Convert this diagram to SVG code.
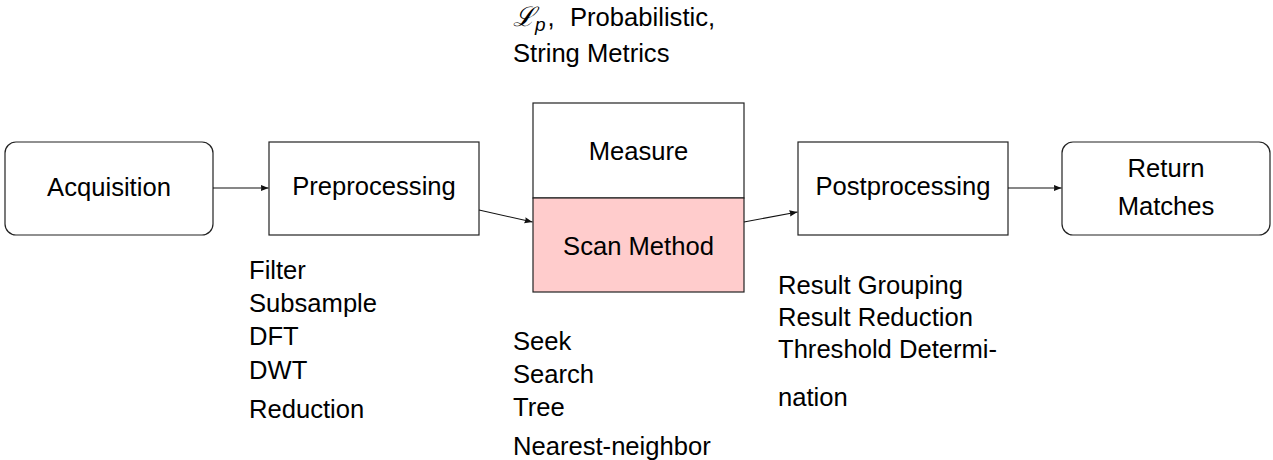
<svg xmlns="http://www.w3.org/2000/svg" width="1273" height="460" viewBox="0 0 1273 460">
<style>
  text { font-family: "Liberation Sans", Arial, sans-serif; font-size: 25.6px; fill: #000; }
  .box { fill: #fff; stroke: #222; stroke-width: 1.2; }
  .pink { fill: #ffcccc; stroke: #222; stroke-width: 1.2; }
  .mid { text-anchor: middle; }
  .conn { stroke: #111; stroke-width: 1.1; fill: none; marker-end: url(#arr); }
</style>
<defs>
  <marker id="arr" markerUnits="userSpaceOnUse" markerWidth="9" markerHeight="7" refX="8" refY="3.5" orient="auto">
    <path d="M0,0.3 L8,3.5 L0,6.7 Q1.5,3.5 0,0.3 z" fill="#111"/>
  </marker>
</defs>

<g id="label-metrics">
  <text x="513" y="26"><tspan font-family="DejaVu Serif, serif" font-style="italic" font-size="27">ℒ</tspan><tspan font-family="Liberation Sans, sans-serif" font-size="19" font-style="italic" dy="5">p</tspan><tspan dy="-5" dx="2">,</tspan><tspan x="570">Probabilistic,</tspan></text>
  <text x="513" y="62">String Metrics</text>
</g>

<g id="node-acquisition">
  <rect class="box" x="5" y="142" width="208" height="93" rx="11"/>
  <text class="mid" x="109" y="196">Acquisition</text>
</g>

<g id="node-preprocessing">
  <rect class="box" x="269" y="142" width="210" height="93"/>
  <text class="mid" x="374" y="195">Preprocessing</text>
</g>

<g id="node-measure">
  <rect class="box" x="533" y="103" width="211" height="95"/>
  <text class="mid" x="638.5" y="160">Measure</text>
</g>

<g id="node-scan">
  <rect class="pink" x="533" y="198" width="211" height="94"/>
  <text class="mid" x="638.5" y="255">Scan Method</text>
</g>

<g id="node-postprocessing">
  <rect class="box" x="798" y="142" width="210" height="93"/>
  <text class="mid" x="903" y="195">Postprocessing</text>
</g>

<g id="node-return">
  <rect class="box" x="1062" y="142" width="208" height="93" rx="11"/>
  <text class="mid" x="1166" y="177">Return</text>
  <text class="mid" x="1166" y="215">Matches</text>
</g>

<g id="label-preprocessing">
  <text x="249" y="279">Filter</text>
  <text x="249" y="312">Subsample</text>
  <text x="249" y="345">DFT</text>
  <text x="249" y="379">DWT</text>
  <text x="249" y="418">Reduction</text>
</g>

<g id="label-scan">
  <text x="513" y="350">Seek</text>
  <text x="513" y="383">Search</text>
  <text x="513" y="416">Tree</text>
  <text x="513" y="455">Nearest-neighbor</text>
</g>

<g id="label-postprocessing">
  <text x="778" y="294">Result Grouping</text>
  <text x="778" y="326">Result Reduction</text>
  <text x="778" y="358">Threshold Determi-</text>
  <text x="778" y="406">nation</text>
</g>

<g id="connectors">
  <line class="conn" x1="213" y1="188" x2="268.5" y2="188"/>
  <line class="conn" x1="479" y1="210" x2="532.5" y2="222"/>
  <line class="conn" x1="744" y1="222" x2="797.5" y2="212"/>
  <line class="conn" x1="1008" y1="188" x2="1061.5" y2="188"/>
</g>
</svg>
